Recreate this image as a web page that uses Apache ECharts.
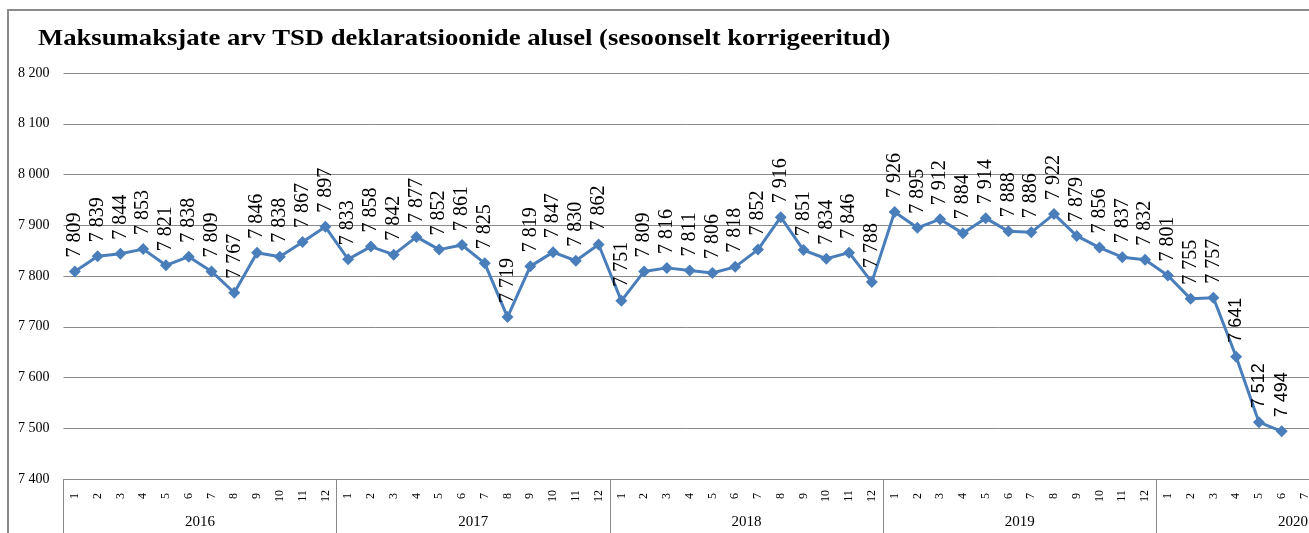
<!DOCTYPE html>
<html>
<head>
<meta charset="utf-8">
<script src="https://cdn.jsdelivr.net/npm/echarts@6/dist/echarts.min.js"></script>
<style>
  html, body { margin: 0; padding: 0; background: #fff; }
  #chart { width: 1309px; height: 533px; }
</style>
</head>
<body>
<div id="chart"></div>
<script>
const years = ["2016", "2017", "2018", "2019", "2020"];
const months = ["1", "2", "3", "4", "5", "6", "7", "8", "9", "10", "11", "12"];

const v2016 = [7809, 7839, 7844, 7853, 7821, 7838, 7809, 7767, 7846, 7838, 7867, 7897];
const v2017 = [7833, 7858, 7842, 7877, 7852, 7861, 7825, 7719, 7819, 7847, 7830, 7862];
const v2018 = [7751, 7809, 7816, 7811, 7806, 7818, 7852, 7916, 7851, 7834, 7846, 7788];
const v2019 = [7926, 7895, 7912, 7884, 7914, 7888, 7886, 7922, 7879, 7856, 7837, 7832];
const v2020 = [7801, 7755, 7757, 7641, 7512, 7494, null, null, null, null, null, null];

const yMin = 7400, yMax = 8200, yStep = 100;

const titleText = "Maksumaksjate arv TSD deklaratsioonide alusel (sesoonselt korrigeeritud)";

// build axis data
const monthCats = [];
const yearCats = [];
years.forEach(y => months.forEach(m => { monthCats.push(m); yearCats.push(y); }));
const values = [].concat(v2016, v2017, v2018, v2019, v2020);

const fmt = v => String(v).replace(/\B(?=(\d{3})+(?!\d))/g, " ");

const seriesData = values.map((v, i) => {
    if (v == null) return null;
    // the last few labels in the source use a sans face
    if (i >= 51) return { value: v, label: { fontFamily: "Liberation Sans", fontSize: 18 } };
    return v;
});

const chart = echarts.init(document.getElementById("chart"));

const serif = "Liberation Serif";
const bandW = 22.77;

chart.setOption({
    animation: false,
    graphic: [{
        type: "rect",
        shape: { x: 8, y: 10, width: 1400, height: 600 },
        style: { fill: null, stroke: "#8a8a8a", lineWidth: 2 },
        silent: true
    }, {
        // title drawn as graphic so it can be stretched like the source
        type: "text",
        x: 38,
        y: 28,
        scaleX: 1.16,
        style: {
            text: titleText,
            font: "bold 23px 'Liberation Serif'",
            fill: "#000"
        },
        silent: true
    }],
    grid: { left: 63.5, top: 73, width: bandW * 60, bottom: 54, outerBoundsMode: "none" },
    xAxis: [{
        type: "category",
        data: monthCats,
        position: "bottom",
        boundaryGap: true,
        axisLine: { show: true, lineStyle: { color: "#8a8a8a", width: 1 } },
        axisTick: {
            show: true,
            length: 60,
            interval: (i) => i % 12 === 0,
            lineStyle: { color: "#8a8a8a", width: 1 }
        },
        axisLabel: {
            interval: 0,
            rotate: 90,
            align: "center",
            margin: 17,
            fontFamily: serif,
            fontSize: 12,
            color: "#000"
        },
        splitLine: { show: false }
    }, {
        type: "category",
        data: yearCats,
        position: "bottom",
        boundaryGap: true,
        axisLine: { show: false },
        axisTick: { show: false },
        axisLabel: {
            interval: (i) => i % 12 === 6,
            align: "center",
            padding: [0, bandW, 0, 0],
            margin: 36,
            fontFamily: serif,
            fontSize: 15,
            color: "#000"
        }
    }],
    yAxis: {
        type: "value",
        min: yMin,
        max: yMax,
        interval: yStep,
        axisLine: { show: false },
        axisTick: { show: false },
        axisLabel: {
            formatter: fmt,
            margin: 14,
            fontFamily: serif,
            fontSize: 14,
            color: "#000"
        },
        splitLine: { lineStyle: { color: "#8a8a8a", width: 1 } }
    },
    series: [{
        type: "line",
        data: seriesData,
        xAxisIndex: 0,
        symbol: "diamond",
        symbolSize: 12,
        connectNulls: false,
        itemStyle: { color: "#4a7ebb" },
        lineStyle: { color: "#4a7ebb", width: 3 },
        label: {
            show: true,
            position: "top",
            distance: 8,
            rotate: 90,
            align: "left",
            verticalAlign: "middle",
            formatter: (p) => fmt(p.value),
            fontFamily: serif,
            fontSize: 20,
            color: "#000"
        },
        labelLayout: { hideOverlap: false }
    }]
});
</script>
</body>
</html>
